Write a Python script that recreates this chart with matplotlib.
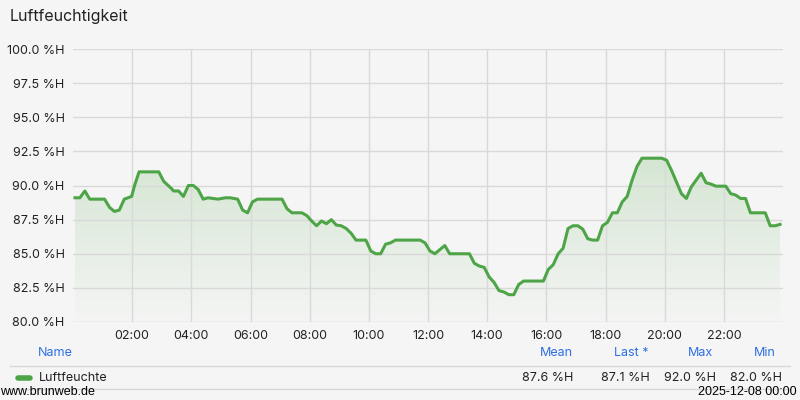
import numpy as np
import matplotlib.pyplot as plt
from matplotlib.ticker import FixedLocator, FuncFormatter
from matplotlib.colors import LinearSegmentedColormap

# minutes after midnight (2025-12-07) and relative humidity in %H
minutes = [4, 14, 24, 34, 64, 74, 84, 94, 104, 119, 124, 134, 174, 184, 199, 204,
           214, 224, 234, 244, 254, 264, 274, 294, 309, 319, 334, 344, 354, 364,
           374, 424, 434, 444, 464, 474, 484, 494, 504, 514, 524, 534, 544, 554,
           564, 574, 594, 604, 614, 624, 634, 644, 654, 704, 714, 724, 734, 744,
           754, 764, 804, 814, 824, 834, 844, 854, 864, 874, 884, 894, 904, 914,
           954, 964, 974, 984, 994, 1004, 1014, 1024, 1034, 1044, 1054, 1064, 1074,
           1084, 1094, 1104, 1114, 1124, 1134, 1144, 1154, 1194, 1204, 1214, 1224,
           1234, 1244, 1254, 1264, 1274, 1284, 1294, 1304, 1324, 1334, 1344, 1354,
           1364, 1374, 1404, 1414, 1424, 1434]
humidity = [89.1, 89.1, 89.6, 89.0, 89.0, 88.4, 88.1, 88.2, 89.0, 89.2, 89.9, 91.0,
            91.0, 90.3, 89.8, 89.6, 89.6, 89.2, 90.0, 90.0, 89.7, 89.0, 89.1, 89.0,
            89.1, 89.1, 89.0, 88.2, 88.0, 88.8, 89.0, 89.0, 88.3, 88.0, 88.0, 87.8,
            87.4, 87.05, 87.4, 87.2, 87.5, 87.1, 87.05, 86.85, 86.5, 86.0, 86.0,
            85.2, 85.0, 85.0, 85.7, 85.8, 86.0, 86.0, 85.8, 85.2, 85.0, 85.3, 85.6,
            85.0, 85.0, 84.3, 84.1, 84.0, 83.3, 82.9, 82.3, 82.2, 82.0, 82.0, 82.75,
            83.0, 83.0, 83.85, 84.2, 85.0, 85.4, 86.85, 87.05, 87.05, 86.8, 86.1,
            86.0, 86.0, 87.05, 87.3, 88.0, 88.0, 88.8, 89.2, 90.4, 91.4, 92.0, 92.0,
            91.85, 91.1, 90.25, 89.4, 89.05, 89.9, 90.4, 90.9, 90.2, 90.1, 89.95,
            89.95, 89.4, 89.3, 89.05, 89.05, 88.0, 88.0, 87.05, 87.05, 87.15]

title = "Luftfeuchtigkeit"
series_name = "Luftfeuchte"
stat_labels = ["Mean", "Last *", "Max", "Min"]
stat_values = ["87.6 %H", "87.1 %H", "92.0 %H", "82.0 %H"]
footer_left = "www.brunweb.de"
footer_right = "2025-12-08 00:00"

bg = "#f4f5f4"
green = "#4ea547"
blue = "#2f6fe4"
txt = "#222222"
fs = 9

plt.rcParams['font.family'] = ['Inter', 'DejaVu Sans']

fig = plt.figure(figsize=(8, 4), dpi=100, facecolor=bg)
ax = fig.add_axes([73 / 800, 1 - 322 / 400, 710 / 800, 273 / 400])
ax.set_facecolor(bg)

hours = np.array(minutes) / 60.0
vals = np.array(humidity)
ymin, ymax = 80.0, 100.0

# gradient fill under the line
poly = ax.fill_between(hours, vals, ymin, color="none", lw=0)
grad = np.linspace(0, 1, 256).reshape(-1, 1)
cmap = LinearSegmentedColormap.from_list("g", [bg, "#d5e6d3"])
im = ax.imshow(grad, aspect="auto", cmap=cmap, origin="lower",
               extent=[hours[0], hours[-1], ymin, vals.max()], zorder=1)
im.set_clip_path(poly.get_paths()[0], transform=ax.transData)

ax.plot(hours, vals, color=green, lw=2.2, zorder=3, solid_joinstyle="round")

ax.set_xlim(0, 24)
ax.set_ylim(ymin, ymax)
ax.xaxis.set_major_locator(FixedLocator(np.arange(2, 24, 2)))
ax.xaxis.set_major_formatter(FuncFormatter(lambda v, p: f"{int(v):02d}:00"))
ax.yaxis.set_major_locator(FixedLocator(np.arange(80, 100.1, 2.5)))
ax.yaxis.set_major_formatter(FuncFormatter(lambda v, p: f"{v:.1f} %H"))
ax.grid(True, color="#d9d9d9", lw=1)
for g in ax.get_xgridlines() + ax.get_ygridlines():
    g.set_zorder(2)
for s in ax.spines.values():
    s.set_visible(False)
ax.tick_params(length=0, labelsize=fs, labelcolor=txt, pad=6)

fig.text(10 / 800, 1 - 17 / 400, title, fontsize=11.5, color=txt, va="center", ha="left")

# legend table
fig.text(38 / 800, 1 - 353 / 400, "Name", color=blue, fontsize=fs, va="center")
stat_x = [573, 649, 713, 776]
for lab, x in zip(stat_labels, stat_x):
    fig.text(x / 800, 1 - 353 / 400, lab, color=blue, fontsize=fs, va="center", ha="right")
for yy in [366, 389]:
    fig.add_artist(plt.Line2D([10 / 800, 790 / 800], [1 - yy / 400] * 2,
                              color="#d8d8d8", lw=1))
fig.add_artist(plt.Line2D([18 / 800, 30 / 800], [1 - 378 / 400] * 2,
                          color=green, lw=4, solid_capstyle="round"))
fig.text(39 / 800, 1 - 378 / 400, series_name, color=txt, fontsize=fs, va="center")
val_x = [573, 650, 716, 782]
for v, x in zip(stat_values, val_x):
    fig.text(x / 800, 1 - 378 / 400, v, color=txt, fontsize=fs, va="center", ha="right")

fig.text(0, 1 - 392 / 400, footer_left, color="black", fontsize=fs,
         family="Liberation Sans", va="center", ha="left")
fig.text(797 / 800, 1 - 392 / 400, footer_right, color="black", fontsize=fs,
         family="Liberation Sans", va="center", ha="right")

fig.savefig("out.png", dpi=100, facecolor=bg)
